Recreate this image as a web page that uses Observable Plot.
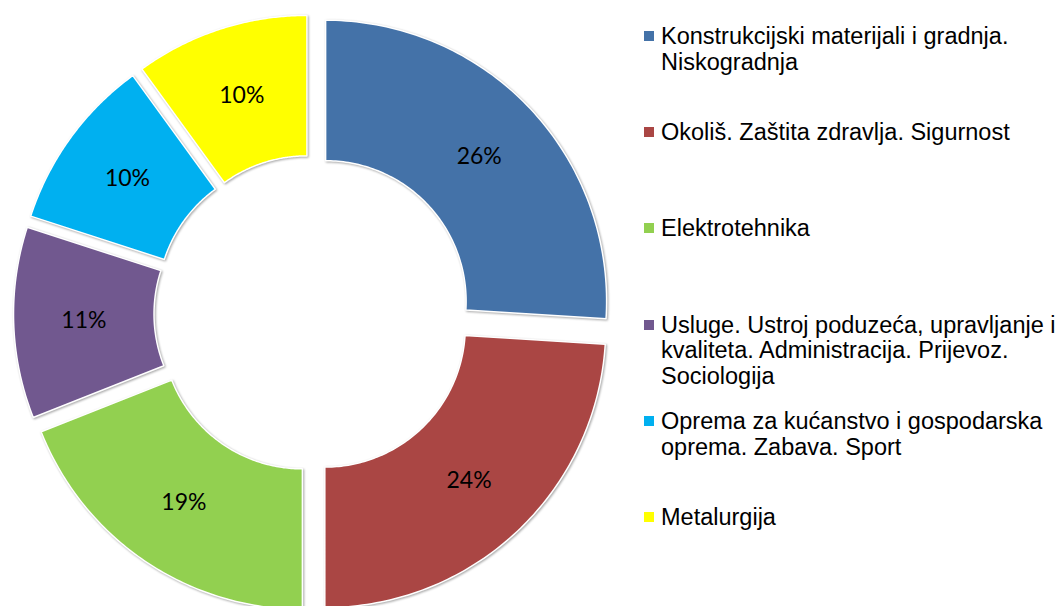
<!DOCTYPE html>
<html>
<head>
<meta charset="utf-8">
<script src="https://cdn.jsdelivr.net/npm/d3@7"></script>
<script src="https://cdn.jsdelivr.net/npm/@observablehq/plot@0.6"></script>
<style>
  html, body { margin: 0; padding: 0; background: #fff; overflow: hidden; }
  #wrap { position: relative; width: 1064px; height: 606px; overflow: hidden; }
  #chart { position: absolute; left: 0; top: 0; }
  #chart g[aria-label="line"] path { filter: drop-shadow(1px 1px 1.2px rgba(0,0,0,0.35)); }
  #legend { position: absolute; left: 644px; top: 0; width: 420px; font-family: Arial, "Liberation Sans", sans-serif; font-size: 23.5px; line-height: 25.7px; color: #000; }
  .item { position: absolute; left: 0; display: flex; align-items: flex-start; }
  .sw { width: 10px; height: 10px; margin-top: 7px; margin-right: 7px; flex: none; }
  .txt { width: 406px; }
</style>
</head>
<body>
<div id="wrap">
  <div id="chart"></div>
  <div id="legend"></div>
</div>
<script>
const categories = [
  "Konstrukcijski materijali i gradnja. Niskogradnja",
  "Okoliš. Zaštita zdravlja. Sigurnost",
  "Elektrotehnika",
  "Usluge. Ustroj poduzeća, upravljanje i kvaliteta. Administracija. Prijevoz. Sociologija",
  "Oprema za kućanstvo i gospodarska oprema. Zabava. Sport",
  "Metalurgija"
];
const values = [26, 24, 19, 11, 10, 10];
const colors = ["#4472A8", "#AA4644", "#92D050", "#71588F", "#00B0F0", "#FFFF00"];

const outerR = 1, innerR = 0.5, explode = 0.064, labelR = 0.75;
const arcs = d3.pie().sort(null).value(d => d)(values);

const polys = [];
const labels = [];
arcs.forEach((a, i) => {
  const mid = (a.startAngle + a.endAngle) / 2;
  const ox = explode * Math.sin(mid), oy = explode * Math.cos(mid);
  const n = 90;
  for (let k = 0; k <= n; k++) {
    const t = a.startAngle + (a.endAngle - a.startAngle) * k / n;
    polys.push({cat: categories[i], x: ox + outerR * Math.sin(t), y: oy + outerR * Math.cos(t)});
  }
  for (let k = n; k >= 0; k--) {
    const t = a.startAngle + (a.endAngle - a.startAngle) * k / n;
    polys.push({cat: categories[i], x: ox + innerR * Math.sin(t), y: oy + innerR * Math.cos(t)});
  }
  labels.push({
    cat: categories[i],
    x: ox + labelR * Math.sin(mid),
    y: oy + labelR * Math.cos(mid),
    label: values[i] + "%"
  });
});

const chart = Plot.plot({
  width: 640,
  height: 606,
  margin: 0,
  x: {domain: [-1, 1], range: [31, 593], axis: null},
  y: {domain: [-1, 1], range: [594, 32], axis: null},
  color: {domain: categories, range: colors},
  marks: [
    Plot.line(polys, {x: "x", y: "y", z: "cat", fill: "cat", stroke: "white", strokeWidth: 1.5, curve: "linear-closed"}),
    Plot.text(labels, {x: "x", y: "y", text: "label", fill: "black", fontSize: 23, fontFamily: "Lato, 'Open Sans', sans-serif"})
  ]
});
document.getElementById("chart").appendChild(chart);

const legend = document.getElementById("legend");
categories.forEach((c, i) => {
  const item = document.createElement("div");
  item.className = "item";
  item.style.top = (24 + i * 96.2) + "px";
  const sw = document.createElement("div");
  sw.className = "sw";
  sw.style.background = colors[i];
  const t = document.createElement("div");
  t.className = "txt";
  t.textContent = c;
  item.appendChild(sw);
  item.appendChild(t);
  legend.appendChild(item);
});
</script>
</body>
</html>
